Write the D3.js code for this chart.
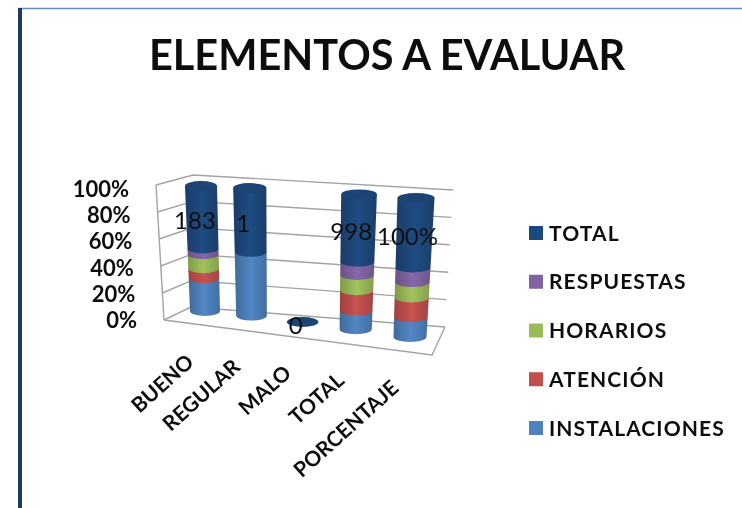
<!DOCTYPE html>
<html>
<head>
<meta charset="utf-8">
<script src="https://cdn.jsdelivr.net/npm/d3@7"></script>
<style>
  html, body { margin: 0; padding: 0; background: #fff; }
  svg { display: block; }
  text { font-family: Lato, "Open Sans", sans-serif; fill: #111; }
</style>
</head>
<body>
<script>
//this is our data
var categories = ["BUENO", "REGULAR", "MALO", "TOTAL", "PORCENTAJE"];
var seriesNames = ["INSTALACIONES", "ATENCIÓN", "HORARIOS", "RESPUESTAS", "TOTAL"];
var instalaciones = [96, 1, 0, 272, 28.5];
var atencion = [29, 0, 0, 303, 28.5];
var horarios = [41, 0, 0, 227, 22];
var respuestas = [17, 0, 0, 196, 21];
var total = [183, 1, 0, 998, 100];
var totalLabels = ["183", "1", "0", "998", "100%"];
var tickValues = [0, 20, 40, 60, 80, 100];
var colors = ["#4f81bd", "#c0504d", "#9bbb59", "#8064a2", "#1f497d"];

var svg = d3.select("body").append("svg")
  .attr("width", 742)
  .attr("height", 508);

var defs = svg.append("defs");
defs.append("filter").attr("id", "soft")
  .append("feGaussianBlur").attr("stdDeviation", 0.6);

// horizontal shading of the cylinders
colors.forEach(function (c, i) {
  var g = defs.append("linearGradient").attr("id", "cyl" + i);
  g.append("stop").attr("offset", "0%").attr("stop-color", d3.color(c).darker(0.55));
  g.append("stop").attr("offset", "50%").attr("stop-color", d3.color(c).brighter(0.12));
  g.append("stop").attr("offset", "100%").attr("stop-color", d3.color(c).darker(0.45));
});

var root = svg.append("g").attr("filter", "url(#soft)");

// frame of the pasted picture
root.append("line").attr("x1", 18).attr("x2", 742).attr("y1", 8.5).attr("y2", 8.5)
  .attr("stroke", "#5f8ac6").attr("stroke-width", 1.5);
root.append("line").attr("x1", 20).attr("x2", 20).attr("y1", 8).attr("y2", 508)
  .attr("stroke", "#1c3a63").attr("stroke-width", 4);

root.append("text")
  .attr("x", 387).attr("y", 70)
  .attr("text-anchor", "middle")
  .attr("font-size", 41.5).attr("font-weight", 700)
  .text("ELEMENTOS A EVALUAR");

// walls: each corner edge is a scale from percent to pixels
var frontX = d3.scaleLinear().domain([0, 100]).range([164, 156]);
var frontY = d3.scaleLinear().domain([0, 100]).range([320, 185]);
var backLX = d3.scaleLinear().domain([0, 100]).range([191, 193]);
var backLY = d3.scaleLinear().domain([0, 100]).range([307, 175]);
var backRX = d3.scaleLinear().domain([0, 100]).range([445, 453]);
var backRY = d3.scaleLinear().domain([0, 100]).range([327, 190]);
var tickY = d3.scaleLinear().domain([0, 100]).range([328, 197]);

var walls = root.append("g")
  .attr("stroke", "#a3a3a3").attr("stroke-width", 1.4).attr("fill", "none");

walls.selectAll(".grid").data(tickValues).enter().append("path")
  .attr("class", "grid")
  .attr("d", function (d) {
    return d3.line()([[frontX(d), frontY(d)], [backLX(d), backLY(d)], [backRX(d), backRY(d)]]);
  });
walls.append("path").attr("d", d3.line()([[frontX(0), frontY(0)], [frontX(100), frontY(100)]]));
walls.append("path").attr("d", d3.line()([[frontX(0), frontY(0)], [432, 355], [backRX(0), backRY(0)]]));

root.selectAll(".tick").data(tickValues).enter().append("text")
  .attr("class", "tick")
  .attr("x", function (d) { return frontX(d) - 27; })
  .attr("y", function (d) { return tickY(d); })
  .attr("text-anchor", "end")
  .attr("font-size", 22).attr("font-weight", 700)
  .text(function (d) { return d + "%"; });

// 100% stack
var rows = categories.map(function (c, i) {
  return {
    INSTALACIONES: instalaciones[i],
    "ATENCIÓN": atencion[i],
    HORARIOS: horarios[i],
    RESPUESTAS: respuestas[i],
    TOTAL: total[i]
  };
});
var stacked = d3.stack().keys(seriesNames).offset(d3.stackOffsetExpand)(rows);

// perspective: columns spread out towards the front right
var stepX = d3.scalePow().exponent(1.07).domain([0, categories.length - 1]).range([0, 1]);
var stepY = d3.scalePow().exponent(1.25).domain([0, categories.length - 1]).range([0, 1]);
var baseX = d3.scaleLinear().domain([0, 1]).range([205, 410]);
var baseY = d3.scaleLinear().domain([0, 1]).range([311, 337]);
var topX = d3.scaleLinear().domain([0, 1]).range([201, 416]);
var topY = d3.scaleLinear().domain([0, 1]).range([186, 198]);
var baseR = d3.scaleLinear().domain([0, 1]).range([15, 16.5]);
var topR = d3.scaleLinear().domain([0, 1]).range([16, 18.5]);
var capRy = 5;

// position on the axis of column i at stacked fraction f
function at(i, f) {
  var sx = stepX(i), sy = stepY(i);
  return {
    x: d3.interpolateNumber(baseX(sx), topX(sx))(f),
    y: d3.interpolateNumber(baseY(sy), topY(sy))(f),
    r: d3.interpolateNumber(baseR(sx), topR(sx))(f)
  };
}

function segmentPath(i, f0, f1) {
  var a = at(i, f0), b = at(i, f1);
  return "M" + (b.x - b.r) + "," + b.y +
    "L" + (a.x - a.r) + "," + a.y +
    "A" + a.r + "," + capRy + " 0 0 0 " + (a.x + a.r) + "," + a.y +
    "L" + (b.x + b.r) + "," + b.y + "Z";
}

var columns = root.selectAll(".column").data(categories).enter().append("g")
  .attr("class", "column");

columns.each(function (c, i) {
  var col = d3.select(this);
  stacked.forEach(function (s, k) {
    var d = s[i];
    if (d[1] > d[0]) {
      col.append("path")
        .attr("d", segmentPath(i, d[0], d[1]))
        .attr("fill", "url(#cyl" + k + ")");
    }
  });
  // lid takes the colour of the last series
  var lid = at(i, stacked[stacked.length - 1][i][1]);
  col.append("ellipse")
    .attr("cx", lid.x).attr("cy", lid.y)
    .attr("rx", lid.r).attr("ry", capRy)
    .attr("fill", d3.color(colors[4]).darker(0.15));
});

// data labels of the TOTAL series
root.selectAll(".value").data(totalLabels).enter().append("text")
  .attr("class", "value")
  .attr("x", function (d, i) {
    var s = stacked[4][i];
    return at(i, (s[0] + s[1]) / 2).x - 7;
  })
  .attr("y", function (d, i) {
    var s = stacked[4][i];
    return at(i, (s[0] + s[1]) / 2).y + 12;
  })
  .attr("text-anchor", "middle")
  .attr("font-size", 24)
  .text(function (d) { return d; });

// category labels
root.selectAll(".cat").data(categories).enter().append("text")
  .attr("class", "cat")
  .attr("text-anchor", "end")
  .attr("font-size", 21).attr("font-weight", 700)
  .attr("transform", function (d, i) {
    var p = at(i, 0);
    return "translate(" + (p.x - 10) + "," + (p.y + 53) + ") rotate(-42)";
  })
  .text(function (d) { return d; });

// legend, top entry is the last series
var legendY = d3.scalePoint().domain(seriesNames).range([428, 233]);

var legend = root.selectAll(".legend").data(seriesNames).enter().append("g")
  .attr("class", "legend")
  .attr("transform", function (d) { return "translate(529," + legendY(d) + ")"; });

legend.append("rect")
  .attr("x", 0).attr("y", -7)
  .attr("width", 14).attr("height", 14)
  .attr("fill", function (d, i) { return colors[i]; });

legend.append("text")
  .attr("x", 20).attr("y", 7.5)
  .attr("font-size", 21).attr("font-weight", 700)
  .attr("letter-spacing", 1.1)
  .text(function (d) { return d; });
</script>
</body>
</html>
